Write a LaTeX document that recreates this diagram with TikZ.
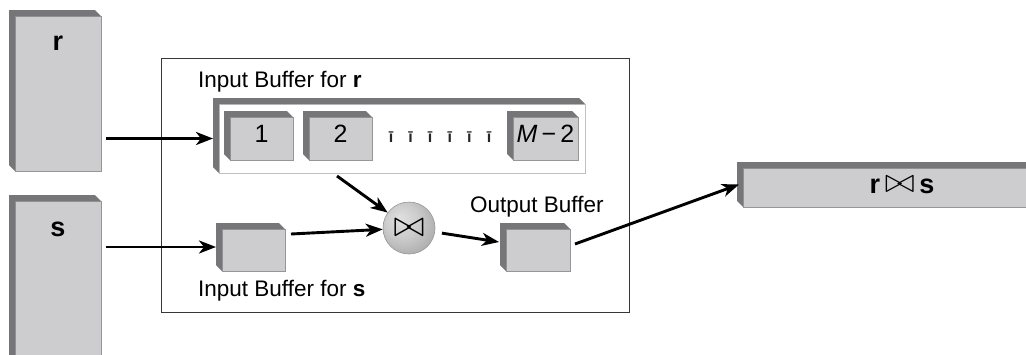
\documentclass[tikz,border=0pt]{standalone}
\usepackage{fontspec}
\setmainfont{Liberation Sans}
\usetikzlibrary{arrows.meta,calc}

\definecolor{face}{RGB}{205,205,207}
\definecolor{band}{RGB}{118,118,120}
\definecolor{edge}{RGB}{150,150,152}
\definecolor{framec}{RGB}{55,55,55}

% soft sphere shading for the join operator
\pgfdeclareradialshading{joinball}{\pgfpoint{-10bp}{10bp}}{%
  color(0bp)=(white!88!black); color(16bp)=(white!80!black);
  color(36bp)=(white!64!black); color(50bp)=(white!58!black)}

\tikzset{
  slab/.style={draw=edge, line width=0.8pt, fill=face, inner sep=0pt,
    outer sep=0pt, anchor=north west},
  numslab/.style={slab, font=\fontsize{25}{30}\selectfont,
    text height=18pt, text depth=10pt},
  tray/.style={draw=edge!60, line width=0.8pt, fill=white, inner sep=0pt,
    outer sep=0pt, anchor=north west},
  lbl/.style={font=\fontsize{22.5}{27}\selectfont, inner sep=0pt, anchor=base west},
  rel/.style={font=\fontsize{27}{32}\selectfont\bfseries, inner sep=0pt, anchor=base},
  tick/.style={font=\fontsize{16}{18}\selectfont\bfseries, inner sep=0pt, text=black!85},
  arr/.style={line width=2.9pt, -{Stealth[length=17pt, width=13pt, inset=5pt]}},
}

% dark bevel on the top and left of a slab
\newcommand{\extrude}[2][6]{%
  \fill[band] ([shift={(-#1,-#1)}]#2.north west) -- ([shift={(-#1,-#1)}]#2.north east)
    -- (#2.north east) -- (#2.north west) -- (#2.south west)
    -- ([shift={(-#1,-#1)}]#2.south west) -- cycle;}

% outlined join symbol at a given size
\newcommand{\joinsym}[2]{\resizebox{#1}{#2}{$\bowtie$}}

\begin{document}
\begin{tikzpicture}[x=1pt, y=-1pt]
  \useasboundingbox (0,0) rectangle (1026,354);
  \clip (0,0) rectangle (1026,354);

  % relations r and s
  \node[slab, minimum width=86pt, minimum height=155pt] (rbox) at (15,16) {};
  \extrude{rbox}
  \node[rel] (rlbl) at (58,50) {r};

  \node[slab, minimum width=86pt, minimum height=170pt] (sbox) at (15,201) {};
  \extrude{sbox}
  \node[rel] (slbl) at (58,236) {s};

  % memory frame
  \node[draw=framec, line width=1.3pt, inner sep=0pt, anchor=north west,
        minimum width=468pt, minimum height=254pt] (frame) at (161,58) {};

  % input buffer for r with its M-2 blocks
  \node[lbl] (lblr) at (198,87) {Input Buffer for \textbf{r}};
  \node[tray, minimum width=366pt, minimum height=69pt] (bufr) at (219,104) {};
  \extrude{bufr}

  \node[numslab, minimum width=63pt, minimum height=43pt] (b1) at (230,117) {1};
  \extrude{b1}
  \node[numslab, minimum width=63pt, minimum height=43pt] (b2) at (309,117) {2};
  \extrude{b2}
  \node[numslab, minimum width=65pt, minimum height=43pt] (bm) at (513,117) {\itshape M\,\upshape−\,2};
  \extrude{bm}
  \foreach \i in {0,...,5}
    \node[tick] (t\i) at ({391+19.6*\i},137) {ī};

  % input buffer for s
  \node[slab, minimum width=63pt, minimum height=42pt] (sbuf) at (222,229) {};
  \extrude{sbuf}
  \node[lbl] (lbls) at (198,296) {Input Buffer for \textbf{s}};

  % join operator
  \node[circle, draw=edge, line width=0.6pt, shading=joinball, minimum size=52pt,
        inner sep=0pt] (join) at (409,228) {\joinsym{31pt}{17pt}};

  % output buffer
  \node[lbl] (lblout) at (470,212) {Output Buffer};
  \node[slab, minimum width=64pt, minimum height=42pt] (out) at (506,229) {};
  \extrude{out}

  % result relation
  \node[slab, minimum width=330pt, minimum height=39pt] (res) at (743,168) {};
  \extrude{res}
  \node[rel] (reslbl) at (902,193) {r\,\raisebox{0.5pt}{\joinsym{30pt}{16pt}}\,s};

  % data flow
  \draw[arr, shorten <=5pt, shorten >=6pt] (bufr.west -| rbox.east) -- (bufr.west);
  \draw[arr, shorten <=5pt, shorten >=6pt] ([yshift=3pt]sbuf.west -| sbox.east) -- ([yshift=3pt]sbuf.west);
  \draw[arr] ([xshift=-65pt, yshift=-3pt]bufr.south) -- (join);
  \draw[arr] ([xshift=6pt, yshift=16pt]sbuf.east) -- (join);
  \draw[arr, shorten <=7pt] (join) -- ([xshift=-7pt, yshift=8pt]out.west);
  \draw[arr] ([xshift=5pt, yshift=6pt]out.east) -- ([xshift=-4pt, yshift=3pt]res.west);
\end{tikzpicture}
\end{document}
